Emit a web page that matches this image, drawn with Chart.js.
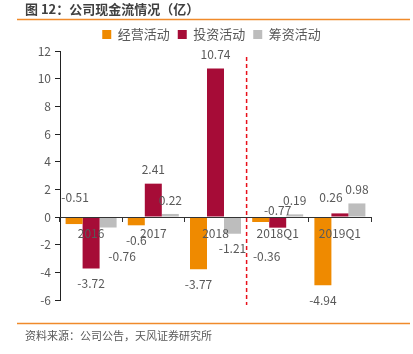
<!DOCTYPE html>
<html>
<head>
<meta charset="utf-8">
<script src="https://cdn.jsdelivr.net/npm/chart.js@4"></script>
<style>
  body { margin: 0; background: #fff; }
  #wrap { width: 413px; height: 354px; position: relative; }
</style>
</head>
<body>
<div id="wrap"><canvas id="myChart"></canvas></div>
<script>
// data
var categories = ['2016', '2017', '2018', '2018Q1', '2019Q1']
var operating = [-0.51, -0.6, -3.77, -0.36, -4.94]
var investing = [-3.72, 2.41, 10.74, -0.77, 0.26]
var financing = [-0.76, 0.22, -1.21, 0.19, 0.98]
var yTicks = [-6, -4, -2, 0, 2, 4, 6, 8, 10, 12]

var FONT = '"Noto Sans CJK SC", "Noto Sans", sans-serif'
var TEXT = '#595959'

// a few labels were moved aside in the original to avoid overlap
// key = dataset index + '-' + category index, value = [dx, dy] in px
var labelNudge = {
    '0-0': [1, -42],
    '2-0': [14, 14],
    '0-3': [6, 19],
    '1-3': [0, -32],
    '1-4': [-9, -2]
}

// title, rules, source note, dashed divider, value labels
var decor = {
    id: 'decor',
    afterLayout: function (chart) {
        // legend sits a bit right of the plot centre in the original
        chart.legend.left += 16
        chart.legend.right += 16
    },
    afterDraw: function (chart) {
        let ctx = chart.ctx
        ctx.save()
        ctx.fillStyle = '#404040'
        ctx.font = 'bold 13px ' + FONT
        ctx.textBaseline = 'middle'
        ctx.textAlign = 'left'
        ctx.fillText('图 12：公司现金流情况（亿）', 25, 9)

        ctx.strokeStyle = '#F08A2B'
        ctx.lineWidth = 1.5
        ctx.beginPath()
        ctx.moveTo(17, 19.5); ctx.lineTo(410, 19.5)
        ctx.moveTo(17, 323.5); ctx.lineTo(410, 323.5)
        ctx.stroke()

        ctx.fillStyle = TEXT
        ctx.font = '11px ' + FONT
        ctx.fillText('资料来源：公司公告，天风证券研究所', 25, 336)

        // dashed line between annual and quarterly data
        let x = chart.scales.x
        let bx = (x.getPixelForValue(2) + x.getPixelForValue(3)) / 2
        ctx.strokeStyle = '#E8101A'
        ctx.lineWidth = 1.5
        ctx.setLineDash([4, 3])
        ctx.beginPath()
        ctx.moveTo(bx, 57); ctx.lineTo(bx, 305)
        ctx.stroke()
        ctx.setLineDash([])
        ctx.restore()
    },
    afterDatasetsDraw: function (chart) {
        let ctx = chart.ctx
        ctx.save()
        ctx.font = '12px ' + FONT
        ctx.fillStyle = TEXT
        ctx.textAlign = 'center'
        ctx.textBaseline = 'middle'
        chart.data.datasets.forEach(function (ds, i) {
            chart.getDatasetMeta(i).data.forEach(function (bar, j) {
                let v = ds.data[j]
                let nudge = labelNudge[i + '-' + j] || [0, 0]
                let y = v >= 0 ? bar.y - 14 : bar.y + 15
                ctx.fillText(String(v), bar.x + nudge[0], y + nudge[1])
            })
        })
        ctx.restore()
    }
}

let ctx = document.getElementById('myChart').getContext('2d')
let myChart = new Chart(ctx, {
    type: 'bar',
    data: {
        labels: categories,
        datasets: [{
            label: '经营活动',
            data: operating,
            backgroundColor: '#EF8A00'
        }, {
            label: '投资活动',
            data: investing,
            backgroundColor: '#A60C37'
        }, {
            label: '筹资活动',
            data: financing,
            backgroundColor: '#BDBDBD'
        }]
    },
    options: {
        responsive: true,
        maintainAspectRatio: false,
        animation: false,
        layout: { padding: { left: 20, right: 42, top: 20, bottom: 54 } },
        datasets: { bar: { categoryPercentage: 0.82, barPercentage: 1.0 } },
        plugins: {
            legend: {
                position: 'top',
                labels: {
                    boxWidth: 9, boxHeight: 9, padding: 8,
                    color: TEXT,
                    font: { family: FONT, size: 13 }
                }
            },
            tooltip: { enabled: false }
        },
        scales: {
            x: {
                position: { y: 0 },
                offset: true,
                grid: { display: true, drawOnChartArea: false, offset: true, tickLength: 4, color: '#333', z: 1 },
                border: { display: true, color: '#333', width: 1, z: 1 },
                ticks: { color: TEXT, font: { family: FONT, size: 12 }, padding: 5, z: 1 }
            },
            y: {
                min: -6, max: 12,
                afterBuildTicks: function (s) { s.ticks = yTicks.map(function (v) { return { value: v } }) },
                afterFit: function (s) { s.width = 40 },
                grid: { display: true, drawOnChartArea: false, tickLength: 5, color: '#222' },
                border: { display: true, color: '#222', width: 1 },
                ticks: { color: TEXT, font: { family: FONT, size: 12 }, padding: 4 }
            }
        }
    },
    plugins: [decor]
})
</script>
</body>
</html>
